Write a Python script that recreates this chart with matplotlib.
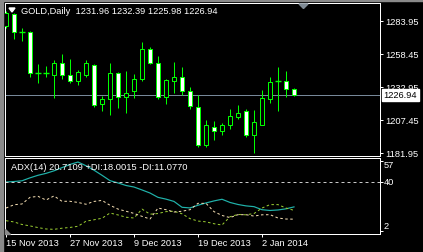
import matplotlib
matplotlib.use("Agg")
import matplotlib.pyplot as plt
import matplotlib.transforms as mtransforms
from matplotlib.patches import Polygon, Rectangle

plt.rcParams['font.family'] = ['Liberation Sans', 'DejaVu Sans']

# daily bars, GOLD
dates = ["15 Nov 2013", "18 Nov 2013", "19 Nov 2013", "20 Nov 2013", "21 Nov 2013",
         "22 Nov 2013", "25 Nov 2013", "26 Nov 2013", "27 Nov 2013", "28 Nov 2013",
         "29 Nov 2013", "2 Dec 2013", "3 Dec 2013", "4 Dec 2013", "5 Dec 2013",
         "6 Dec 2013", "9 Dec 2013", "10 Dec 2013", "11 Dec 2013", "12 Dec 2013",
         "13 Dec 2013", "16 Dec 2013", "17 Dec 2013", "18 Dec 2013", "19 Dec 2013",
         "20 Dec 2013", "23 Dec 2013", "24 Dec 2013", "26 Dec 2013", "27 Dec 2013",
         "30 Dec 2013", "31 Dec 2013", "2 Jan 2014", "3 Jan 2014", "6 Jan 2014",
         "7 Jan 2014", "8 Jan 2014"]
opens = [1280.4, 1289.7, 1275.9, 1275.8, 1244.1, 1244.1, 1242.4, 1251.7, 1242.4, 1237.8,
         1242.4, 1250.2, 1220.0, 1223.8, 1244.0, 1225.4, 1230.0, 1239.3, 1262.6, 1251.7,
         1225.4, 1237.8, 1240.9, 1230.0, 1217.6, 1188.2, 1202.1, 1199.0, 1203.7, 1209.9,
         1214.5, 1196.0, 1203.7, 1223.8, 1237.9, 1237.8, 1231.96]
highs = [1292.0, 1290.5, 1278.9, 1276.5, 1251.0, 1249.4, 1254.1, 1258.7, 1254.8, 1246.3,
         1254.1, 1251.0, 1226.2, 1251.7, 1244.8, 1245.5, 1243.2, 1268.0, 1264.1, 1257.2,
         1239.3, 1252.5, 1248.6, 1233.1, 1226.9, 1207.6, 1206.8, 1205.2, 1216.1, 1219.2,
         1216.1, 1215.3, 1230.8, 1240.9, 1248.6, 1245.5, 1232.39]
lows = [1278.9, 1270.3, 1268.8, 1240.9, 1236.2, 1240.9, 1224.6, 1239.3, 1236.2, 1234.7,
        1240.9, 1217.6, 1214.5, 1211.4, 1216.9, 1213.0, 1224.6, 1237.8, 1251.0, 1223.8,
        1220.0, 1228.5, 1226.9, 1216.1, 1186.6, 1186.6, 1192.1, 1196.0, 1200.6, 1208.3,
        1194.4, 1182.0, 1203.7, 1220.7, 1214.5, 1225.4, 1225.98]
closes = [1290.5, 1275.8, 1275.6, 1244.0, 1243.9, 1243.9, 1251.7, 1242.4, 1237.8, 1244.8,
          1251.7, 1219.2, 1223.8, 1244.0, 1225.4, 1228.5, 1239.3, 1262.6, 1251.7, 1225.4,
          1238.6, 1240.9, 1230.0, 1218.4, 1188.2, 1203.7, 1199.0, 1203.7, 1210.7, 1213.0,
          1196.0, 1206.0, 1224.6, 1237.0, 1237.7, 1231.6, 1226.94]

# ADX(14) window
adx = [40.2, 40.6, 41.2, 43.5, 45.5, 47.0, 49.0, 51.5, 54.0, 55.9,
       53.0, 49.5, 45.5, 41.3, 39.5, 37.5, 36.3, 34.0, 31.6, 28.2,
       26.8, 25.0, 20.4, 19.9, 22.0, 23.8, 25.4, 26.7, 24.2, 22.6,
       21.5, 20.9, 18.5, 17.9, 18.3, 19.2, 20.71]
plus_di = [9.9, 8.9, 6.9, 5.8, 4.5, 3.4, 3.1, 4.0, 4.6, 5.5,
           9.5, 10.6, 11.8, 15.9, 14.4, 12.6, 12.0, 19.0, 15.0, 15.5,
           17.0, 17.3, 15.3, 11.5, 9.6, 9.0, 7.5, 6.5, 13.0, 14.8,
           14.5, 15.5, 19.8, 22.5, 22.5, 19.8, 18.0]
minus_di = [19.8, 22.4, 23.0, 28.2, 29.0, 26.1, 29.3, 25.1, 25.1, 24.2,
            22.8, 25.0, 25.8, 22.0, 19.0, 17.3, 15.6, 13.3, 11.2, 19.8,
            18.5, 16.7, 17.3, 18.5, 23.5, 23.5, 17.0, 14.0, 12.3, 14.6,
            14.6, 13.5, 14.5, 14.6, 12.0, 11.2, 11.08]

price_ticks = [1283.95, 1258.45, 1232.95, 1207.45, 1181.95]
adx_ticks = [57, 40, 2]
adx_level = 40
date_ticks = [0, 8, 16, 24, 32]

W, H = 423, 252
def fx(x):
    return x / W
def fy(y):
    return 1 - y / H

fig = plt.figure(figsize=(W / 100, H / 100), dpi=100, facecolor='black')
green = '#00ff00'
fs = 6.7
lw = 0.72

# window frame
fig.patches.append(Rectangle((0, 0), fx(3), 1, transform=fig.transFigure,
                             color='#8a8a8a', zorder=0))
fig.patches.append(Rectangle((0, fy(1)), 1, 1 / H, transform=fig.transFigure,
                             color='#8a8a8a', zorder=0))

ax = fig.add_axes([fx(5), fy(156), fx(375), 153 / H])
ax2 = fig.add_axes([fx(5), fy(234), fx(375), 76 / H])

for a in (ax, ax2):
    a.set_facecolor('black')
    for s in a.spines.values():
        s.set_color('white')
        s.set_linewidth(lw)
    a.set_xlim(-0.125, 46.75)
    a.tick_params(axis='both', colors='white', labelsize=fs, length=2.2, width=lw)
    a.yaxis.tick_right()

x = list(range(len(dates)))

# candles
ax.vlines(x, lows, highs, color=green, lw=lw, zorder=2)
for i in x:
    o, c = opens[i], closes[i]
    if abs(c - o) < 0.6:
        ax.hlines(o, i - 0.33, i + 0.33, color=green, lw=lw * 1.4, zorder=3)
    else:
        fill = 'black' if c > o else 'white'
        ax.bar(i, abs(c - o), bottom=min(o, c), width=0.6, color=fill,
               edgecolor=green, linewidth=lw, zorder=3)

ax.axhline(closes[-1], color='#778899', lw=lw, zorder=1)
ax.set_ylim(1179.67, 1298.24)
ax.set_yticks(price_ticks)
ax.set_yticklabels([f"{p:.2f}" for p in price_ticks])
ax.tick_params(axis='y', pad=1.5)
ax.set_xticks([])

bt = mtransforms.blended_transform_factory(ax.transAxes, ax.transData)
ax.text(1.0 + 3.5 / 375, closes[-1], f"{closes[-1]:.2f}", transform=bt, color='black',
        fontsize=fs, va='center', ha='left', clip_on=False, zorder=5,
        bbox=dict(boxstyle='square,pad=0.18', fc='white', ec='white'))

fig.text(fx(21), fy(12), f"GOLD,Daily  {opens[-1]:.2f} {highs[-1]:.2f} {lows[-1]:.2f} {closes[-1]:.2f}",
         color='white', fontsize=fs, va='center', ha='left')
fig.patches.append(Polygon([(fx(9), fy(8)), (fx(15), fy(8)), (fx(12), fy(12))], closed=True,
                           transform=fig.transFigure, color='white', zorder=5))
fig.patches.append(Polygon([(fx(299), fy(4)), (fx(308), fy(4)), (fx(303.5), fy(8.5))], closed=True,
                           transform=fig.transFigure, color='#7f8a94', zorder=5))

# ADX window
ax2.plot(x, adx, color='#20b2aa', lw=lw * 1.2)
ax2.plot(x, plus_di, color='#9acd32', lw=lw, ls=(0, (2.5, 2.5)))
ax2.plot(x, minus_di, color='#f5deb3', lw=lw, ls=(0, (2.5, 2.5)))
ax2.axhline(adx_level, color='#c8c8c8', lw=lw, ls=(0, (3, 3)))
ax2.set_ylim(-0.55, 59.06)
ax2.set_yticks(adx_ticks)
ax2.set_yticklabels([])
bt2 = mtransforms.blended_transform_factory(ax2.transAxes, ax2.transData)
for v in adx_ticks:
    va = 'top' if v == max(adx_ticks) else ('bottom' if v == min(adx_ticks) else 'center')
    ax2.text(1.0 + 4 / 375, v, str(v), transform=bt2, color='white', fontsize=fs,
             va=va, ha='left', clip_on=False)
ax2.text(6 / 375, 0.88, "ADX(14) 20.7109 +DI:18.0015 -DI:11.0770",
         transform=ax2.transAxes, color='white', fontsize=fs, va='center', ha='left')
fig.patches.append(Polygon([(fx(5), fy(229)), (fx(5), fy(234)), (fx(10), fy(234))], closed=True,
                           transform=fig.transFigure, color='#8a8a8a', zorder=5))

ax2.set_xticks(date_ticks)
ax2.set_xticklabels([dates[i] for i in date_ticks])
ax2.tick_params(axis='x', pad=1.5)
plt.setp(ax2.get_xticklabels(), ha='left')

fig.savefig('out.png', dpi=100, facecolor='black')
